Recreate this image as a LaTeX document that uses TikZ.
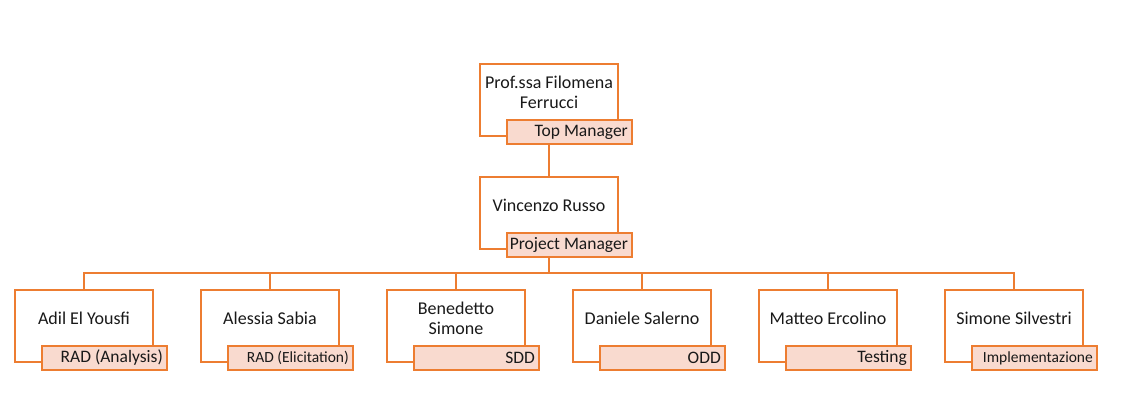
\documentclass[tikz,border=0pt]{standalone}
\usepackage{fontspec}
\setmainfont{Carlito}
\usetikzlibrary{backgrounds}
\definecolor{orgline}{RGB}{237,125,49}
\definecolor{orgfill}{RGB}{249,218,207}
\tikzset{
  boxnode/.style={draw=orgline, line width=1.1pt, fill=white, minimum width=138pt, minimum height=72pt, inner sep=0pt},
  namenode/.style={font=\fontsize{18}{20}\selectfont, align=center, inner sep=0pt, text=black!90},
  lblnode/.style={draw=orgline, line width=1.1pt, fill=orgfill, minimum width=125pt, minimum height=24pt, inner sep=0pt},
  lbltext/.style={anchor=east, inner xsep=4.5pt, inner ysep=0pt, font=\fontsize{17.5}{20}\selectfont, text=black!90},
  smalllbl/.style={font=\fontsize{15.5}{18}\selectfont},
  conn/.style={draw=orgline, line width=1.1pt}
}
\newcommand{\orgperson}[6]{%
  \node[boxnode] (#1) at (#2+69,#3+36) {};
  \node[namenode] (#1n) at (#2+69,#3+28) {#4};
  \node[lblnode] (#1l) at (#2+89.5,#3+68) {};
  \node[lbltext,#6] (#1t) at (#1l.east) {#5};
}
\begin{document}
\begin{tikzpicture}[x=1pt,y=-1pt]
\useasboundingbox (0,0) rectangle (1144,414);
\orgperson{top}{480}{64}{Prof.ssa Filomena\\Ferrucci}{Top Manager}{}
\orgperson{pm}{480}{177}{Vincenzo Russo}{Project Manager}{}
\orgperson{c1}{15}{290}{Adil El Yousfi}{RAD (Analysis)}{}
\orgperson{c2}{201}{290}{Alessia Sabia}{RAD (Elicitation)}{smalllbl}
\orgperson{c3}{387}{290}{Benedetto\\Simone}{SDD}{}
\orgperson{c4}{573}{290}{Daniele Salerno}{ODD}{}
\orgperson{c5}{759}{290}{Matteo Ercolino}{Testing}{}
\orgperson{c6}{945}{290}{Simone Silvestri}{Implementazione}{smalllbl}
\coordinate (bus) at (549,273);
\begin{scope}[on background layer]
\fill[white] (0,0) rectangle (1144,414);
\draw[conn] (top.south) -- (pm.north);
\draw[conn] (pm.south) -- (bus);
\foreach \c in {c1,c2,c3,c4,c5,c6}{\draw[conn] (bus) -| (\c.north);}
\end{scope}
\end{tikzpicture}
\end{document}
